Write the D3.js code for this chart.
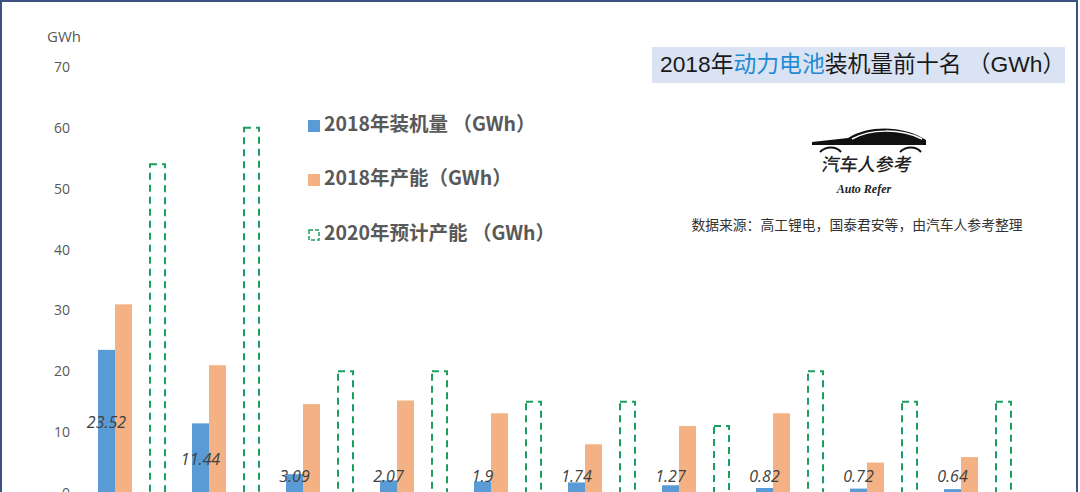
<!DOCTYPE html>
<html><head><meta charset="utf-8">
<script src="https://cdn.jsdelivr.net/npm/d3@7/dist/d3.min.js"></script>
<style>html,body{margin:0;padding:0;background:#fff;overflow:hidden}</style>
</head><body>
<svg id="c" width="1080" height="492"></svg>
<script>
const categories = ["宁德时代","比亚迪","国轩高科","力神","孚能科技","比克","亿纬锂能","微宏动力","卡耐新能源","多氟多"];
const installed2018 = [23.52,11.44,3.09,2.07,1.9,1.74,1.27,0.82,0.72,0.64];
const capacity2018 = [31,21,14.6,15.2,13.1,8,11,13.1,5,5.9];
const capacity2020 = [54,60,20,20,15,15,11,20,15,15];
const yTicks = [0,10,20,30,40,50,60,70];
const legendLabels = ["2018年装机量 （GWh）","2018年产能（GWh）","2020年预计产能 （GWh）"];

const svg = d3.select("#c");
const BLUE="#5b9bd5", ORANGE="#f4b183", GREEN="#1e9e5e", TXT="#595959";

svg.append("rect").attr("x",1).attr("y",1).attr("width",1076).attr("height",520)
  .attr("fill","#fff").attr("stroke","#3b5283").attr("stroke-width",2);

const y = d3.scaleLinear().domain([0,70]).range([493,67]);
const x = d3.scaleBand().domain(categories).range([85,1025]).paddingInner(26/94).paddingOuter(13/94);
const inner = d3.scaleBand().domain(["a","b","gap","c"]).range([0,x.bandwidth()]);

// y axis
const yAxis = d3.axisLeft(y).tickValues(yTicks).tickSize(0).tickPadding(0);
const gy = svg.append("g").attr("transform","translate(70,0)").call(yAxis);
gy.select(".domain").remove();
gy.selectAll("text").attr("fill",TXT).style("font-family","'Open Sans',sans-serif").style("font-size","14px");
svg.append("text").attr("x",47).attr("y",42).text("GWh").attr("fill",TXT)
  .style("font-family","'Open Sans',sans-serif").style("font-size","15px");

// bars
svg.append("g").selectAll("rect").data(categories).join("rect")
  .attr("x",d=>x(d)+inner("a")).attr("width",inner.bandwidth())
  .attr("y",(d,i)=>y(installed2018[i])).attr("height",(d,i)=>y(0)-y(installed2018[i]))
  .attr("fill",BLUE);
svg.append("g").selectAll("rect").data(categories).join("rect")
  .attr("x",d=>x(d)+inner("b")).attr("width",inner.bandwidth())
  .attr("y",(d,i)=>y(capacity2018[i])).attr("height",(d,i)=>y(0)-y(capacity2018[i]))
  .attr("fill",ORANGE);
svg.append("g").selectAll("rect").data(categories).join("rect")
  .attr("x",d=>x(d)+inner("c")+1).attr("width",inner.bandwidth()-2)
  .attr("y",(d,i)=>y(capacity2020[i])).attr("height",(d,i)=>y(0)-y(capacity2020[i]))
  .attr("fill","none").attr("stroke",GREEN).attr("stroke-width",2).attr("stroke-dasharray","7,5");

// data labels
svg.append("g").selectAll("text").data(categories).join("text")
  .attr("x",d=>x(d)+inner("a")+inner.bandwidth()/2)
  .attr("y",(d,i)=>y(Math.max(installed2018[i]/2,2.95))+2.5)
  .attr("text-anchor","middle").attr("dominant-baseline","middle")
  .attr("fill","#404040").style("font-family","'Open Sans',sans-serif")
  .style("font-style","italic").style("font-size","16px")
  .text((d,i)=>installed2018[i]);

// legend
const lg = svg.append("g").attr("transform","translate(308,0)");
const rowsY=[126,180,235];
lg.append("rect").attr("x",0).attr("y",rowsY[0]-6).attr("width",12).attr("height",12).attr("fill",BLUE);
lg.append("rect").attr("x",0).attr("y",rowsY[1]-6).attr("width",12).attr("height",12).attr("fill",ORANGE);
lg.append("rect").attr("x",1).attr("y",rowsY[2]-5).attr("width",10).attr("height",10).attr("fill","none")
  .attr("stroke",GREEN).attr("stroke-width",1.5).attr("stroke-dasharray","4,2");
lg.selectAll("text").data(legendLabels).join("text")
  .attr("x",16).attr("y",(d,i)=>rowsY[i]).attr("dominant-baseline","middle")
  .attr("fill",TXT).style("font-family","'Noto Sans CJK SC',sans-serif").style("font-weight","bold")
  .style("font-size","19.5px").text(d=>d);

// title
svg.append("rect").attr("x",652).attr("y",47).attr("width",413).attr("height",36).attr("fill","#dae3f3");
const t = svg.append("text").attr("x",660).attr("y",66).attr("dominant-baseline","middle")
  .attr("fill","#1a1a1a").style("font-family","'Liberation Sans','Noto Sans CJK SC',sans-serif").style("font-size","22.8px");
t.append("tspan").text("2018年");
t.append("tspan").attr("fill","#1f8ad2").text("动力电池");
t.append("tspan").text("装机量前十名 （GWh）");

// logo
const logo = svg.append("g");
logo.append("path").attr("d","M812,145 L926,145 L926,140 C905,126 870,124 848,138 L812,142 Z").attr("fill","#111");
logo.append("path").attr("d","M852,139 C870,129 900,128 922,139").attr("fill","none").attr("stroke","#fff").attr("stroke-width",1.5);
logo.append("path").attr("d","M820,152 C826,146 836,146 841,152").attr("fill","none").attr("stroke","#111").attr("stroke-width",2);
logo.append("path").attr("d","M900,152 C906,146 916,146 921,152").attr("fill","none").attr("stroke","#111").attr("stroke-width",2);
logo.append("text").attr("x",867).attr("y",166).attr("text-anchor","middle").attr("dominant-baseline","middle")
  .attr("fill","#222").style("font-family","'Noto Sans CJK SC',sans-serif").style("font-weight","500")
  .style("font-size","18px").attr("transform","skewX(-8) translate(23,0)").text("汽车人参考");
logo.append("text").attr("x",864).attr("y",190).attr("text-anchor","middle").attr("dominant-baseline","middle")
  .attr("fill","#222").style("font-family","'Liberation Serif',serif").style("font-style","italic").style("font-weight","bold")
  .style("font-size","12px").text("Auto Refer");

svg.append("text").attr("x",857).attr("y",226).attr("text-anchor","middle").attr("dominant-baseline","middle")
  .attr("fill","#333").style("font-family","'Noto Sans CJK SC',sans-serif").style("font-size","13.8px")
  .text("数据来源：高工锂电，国泰君安等，由汽车人参考整理");
</script>
</body></html>
